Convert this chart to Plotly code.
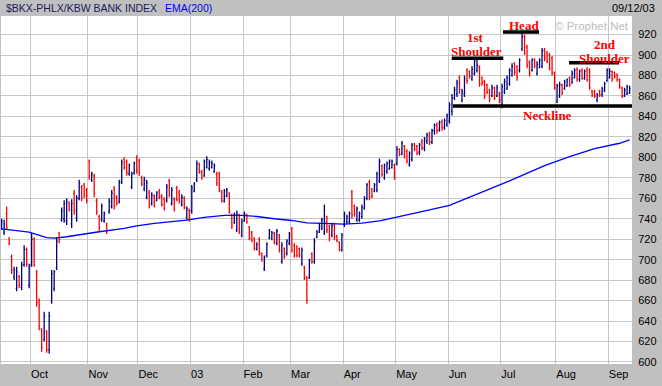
import plotly.graph_objects as go
import pandas as pd

# ---------------- data ----------------
holidays = ["2002-11-28", "2002-12-25", "2003-01-01", "2003-01-20", "2003-02-17",
            "2003-04-18", "2003-05-26", "2003-07-04", "2003-09-01"]
dates = [d for d in pd.bdate_range("2002-09-13", "2003-09-12")
         if d.strftime("%Y-%m-%d") not in holidays]

open_ = [
    731, 727, 745, 721, 703, 683, 672, 684, 673, 695,   # 0
    710, 675, 695, 720, 688, 660, 632, 622, 630, 612,   # 10
    660, 672, 692, 726, 739, 740, 738, 755, 735, 765,   # 20
    741, 760, 771, 773, 768, 796, 778, 782, 758, 742,   # 30
    739, 738, 735, 747, 752, 769, 761, 757, 776, 798,   # 40
    796, 784, 771, 785, 800, 797, 780, 769, 761, 766,   # 50
    755, 762, 758, 767, 762, 759, 758, 777, 755, 759,   # 60
    770, 766, 754, 760, 741, 748, 748, 767, 778, 793,   # 70
    786, 782, 790, 789, 790, 786, 784, 784, 766, 757,   # 80
    762, 765, 744, 736, 729, 744, 724, 738, 744, 732,   # 90
    727, 721, 710, 720, 706, 691, 704, 721, 721, 726,   # 100
    716, 724, 698, 711, 706, 716, 730, 714, 713, 711,   # 110
    696, 693, 682, 682, 706, 698, 722, 727, 731, 727,   # 120
    742, 733, 724, 734, 723, 717, 709, 734, 737, 737,   # 130
    766, 752, 739, 739, 742, 750, 760, 776, 769, 767,   # 140
    768, 777, 792, 780, 786, 789, 790, 793, 794, 808,   # 150
    804, 811, 806, 793, 798, 813, 811, 805, 815, 809,   # 160
    816, 823, 815, 826, 832, 827, 835, 829, 832, 836,   # 170
    845, 858, 862, 878, 856, 862, 885, 884, 877, 882,   # 180
    885, 888, 878, 874, 871, 866, 860, 868, 860, 863,   # 190
    851, 864, 867, 872, 880, 892, 889, 885, 906, 918,   # 200
    908, 893, 885, 896, 882, 888, 889, 905, 902, 900,   # 210
    897, 882, 855, 860, 871, 867, 870, 878, 873, 878,   # 220
    886, 876, 885, 877, 886, 885, 865, 864, 856, 865,   # 230
    861, 865, 875, 878, 884, 883, 881, 876, 868, 860,   # 240
    862, 863,                                           # 250
]
high = [
    740, 739, 752, 722, 705, 693, 693, 685, 698, 714,
    712, 696, 726, 722, 690, 662, 633, 649, 631, 649,
    690, 690, 722, 727, 751, 758, 760, 757, 759, 768,
    763, 778, 773, 775, 770, 798, 786, 784, 760, 744,
    755, 747, 736, 760, 768, 772, 763, 778, 798, 800,
    798, 794, 786, 796, 802, 799, 782, 781, 778, 768,
    766, 764, 767, 769, 764, 761, 774, 779, 771, 761,
    772, 768, 764, 762, 752, 750, 773, 776, 797, 795,
    788, 798, 801, 798, 797, 794, 786, 786, 768, 769,
    770, 766, 745, 746, 748, 745, 740, 747, 745, 733,
    728, 722, 717, 722, 707, 704, 717, 730, 728, 727,
    730, 725, 717, 712, 720, 727, 732, 716, 714, 712,
    712, 694, 684, 701, 707, 721, 729, 736, 741, 754,
    743, 734, 736, 736, 724, 718, 726, 747, 744, 747,
    768, 754, 752, 747, 754, 762, 775, 778, 770, 775,
    786, 799, 793, 794, 796, 798, 798, 794, 811, 809,
    816, 812, 808, 806, 814, 814, 812, 814, 818, 820,
    824, 825, 828, 833, 834, 836, 837, 838, 843, 854,
    862, 869, 876, 880, 867, 880, 887, 885, 889, 897,
    898, 890, 879, 876, 872, 867, 871, 869, 871, 864,
    872, 877, 880, 887, 892, 893, 890, 897, 922, 920,
    910, 895, 897, 897, 894, 897, 907, 907, 904, 902,
    899, 884, 872, 874, 872, 876, 877, 879, 885, 887,
    888, 886, 887, 886, 888, 887, 866, 866, 863, 866,
    869, 874, 887, 887, 885, 884, 882, 877, 869, 868,
    871, 870,
]
low = [
    729, 724, 729, 714, 686, 680, 669, 672, 670, 693,
    693, 672, 693, 693, 654, 631, 610, 620, 609, 608,
    657, 669, 690, 716, 737, 736, 734, 747, 731, 744,
    737, 758, 757, 760, 755, 778, 776, 761, 744, 727,
    737, 736, 725, 745, 750, 749, 753, 755, 774, 788,
    782, 782, 769, 783, 784, 782, 772, 767, 759, 750,
    753, 751, 757, 759, 752, 748, 756, 761, 753, 747,
    757, 755, 752, 749, 739, 737, 745, 766, 776, 784,
    778, 781, 789, 787, 789, 785, 772, 766, 756, 756,
    761, 745, 730, 735, 727, 725, 722, 737, 735, 719,
    717, 709, 709, 704, 698, 689, 702, 720, 719, 715,
    714, 707, 696, 701, 704, 714, 707, 702, 702, 702,
    694, 680, 657, 681, 696, 696, 721, 726, 729, 724,
    726, 718, 722, 719, 717, 708, 708, 732, 735, 735,
    740, 742, 737, 737, 740, 749, 758, 758, 760, 766,
    766, 775, 781, 778, 784, 788, 789, 778, 792, 801,
    802, 799, 794, 791, 796, 806, 802, 802, 807, 806,
    813, 812, 813, 822, 823, 825, 826, 827, 830, 833,
    841, 856, 859, 862, 854, 859, 872, 877, 875, 880,
    883, 869, 870, 857, 862, 854, 859, 856, 859, 853,
    848, 862, 866, 870, 879, 880, 875, 883, 904, 900,
    887, 879, 884, 887, 880, 887, 887, 894, 892, 885,
    880, 866, 853, 858, 861, 866, 869, 869, 872, 877,
    874, 874, 876, 876, 874, 866, 859, 858, 854, 859,
    859, 864, 874, 877, 874, 877, 874, 867, 858, 859,
    861, 862,
]
close = [
    737, 735, 731, 716, 690, 690, 688, 675, 695, 710,
    696, 693, 720, 695, 658, 635, 614, 645, 612, 645,
    686, 688, 718, 720, 748, 755, 757, 749, 755, 748,
    760, 775, 760, 763, 758, 782, 784, 765, 747, 731,
    752, 745, 728, 757, 765, 752, 755, 775, 795, 790,
    785, 792, 784, 794, 787, 785, 774, 778, 775, 752,
    763, 753, 765, 761, 754, 750, 771, 764, 768, 749,
    759, 757, 761, 751, 750, 740, 770, 774, 794, 786,
    780, 796, 798, 795, 794, 792, 775, 768, 758, 767,
    768, 747, 733, 744, 745, 727, 737, 745, 737, 721,
    719, 711, 715, 706, 700, 702, 715, 728, 726, 717,
    728, 709, 714, 703, 718, 725, 709, 704, 704, 705,
    709, 683, 660, 699, 698, 718, 727, 733, 739, 737,
    729, 721, 733, 722, 719, 710, 724, 745, 742, 745,
    744, 745, 750, 745, 751, 760, 773, 761, 762, 773,
    784, 796, 783, 792, 794, 796, 796, 780, 808, 803,
    814, 801, 796, 804, 812, 808, 804, 812, 809, 818,
    822, 815, 826, 831, 826, 834, 829, 836, 841, 851,
    858, 866, 873, 866, 864, 877, 875, 879, 886, 894,
    890, 872, 873, 860, 864, 857, 868, 858, 868, 856,
    869, 874, 878, 885, 889, 883, 878, 895, 918, 902,
    890, 882, 895, 889, 891, 895, 904, 897, 894, 887,
    883, 868, 870, 871, 863, 874, 876, 871, 882, 885,
    877, 884, 878, 884, 876, 868, 861, 860, 861, 861,
    867, 872, 885, 884, 877, 879, 876, 869, 860, 866,
    869, 867,
]

ema_bar = [0, 11, 18, 21, 26, 32, 39, 49, 54, 61, 68, 74, 81, 89, 96, 102, 109,
           116, 122, 131, 137, 144, 151, 157, 164, 167, 179, 191, 203, 217, 227,
           237, 247, 251]
ema_val = [730, 727, 721.5, 721, 722.4, 725, 727.3, 730.6, 733, 735.5, 737, 738.7,
           741.3, 743.2, 743.2, 742.2, 740, 738.3, 736, 735, 734.7, 735.7, 738,
           741.2, 744.5, 746.5, 753, 765, 777, 792, 800.7, 808.5, 813.8, 817]

month_labels = ["Oct", "Nov", "Dec", "03", "Feb", "Mar", "Apr", "May",
                "Jun", "Jul", "Aug", "Sep"]
y_ticks = list(range(600, 921, 20))

# head-and-shoulders annotation lines: (start bar, end bar, level)
pattern_lines = [(179.9, 200.5, 896.9), (200.4, 214.8, 922.6),
                 (226.8, 246.8, 892.6), (180.4, 253.0, 850.3)]
pattern_text = [("1st", 189.2, 916.7), ("Shoulder", 189.6, 903.2),
                ("Head", 208.8, 929.2), ("2nd", 241.2, 910.0),
                ("Shoulder", 240.8, 897.0), ("Neckline", 218.0, 840.5)]

# ---------------- figure ----------------
n = min(len(dates), len(close))
bars = list(range(n))
month_start = [i for i in range(1, len(dates)) if dates[i].month != dates[i - 1].month]
grid_pos = [i - 0.5 for i in month_start]

fig = go.Figure()
fig.add_trace(go.Ohlc(
    x=bars, open=open_[:n], high=high[:n], low=low[:n], close=close[:n],
    increasing=dict(line=dict(color="#000080", width=1.3)),
    decreasing=dict(line=dict(color="#FF0000", width=1.3)),
    tickwidth=0.4, hoverinfo="skip", showlegend=False))
fig.add_trace(go.Scatter(
    x=ema_bar, y=ema_val, mode="lines",
    line=dict(color="#0000FF", width=1.3), hoverinfo="skip", showlegend=False))

for x0, x1, lvl in pattern_lines:
    fig.add_shape(type="line", xref="x", yref="y", x0=x0, x1=x1, y0=lvl, y1=lvl,
                  line=dict(color="black", width=3.5), layer="above")

red_font = dict(family="Liberation Serif", size=13, color="#FF0000", weight="bold")
for txt, xv, yv in pattern_text:
    fig.add_annotation(x=xv, y=yv, xref="x", yref="y", text=txt, showarrow=False,
                       font=red_font, xanchor="center", yanchor="middle")

sans = "Liberation Sans"
# title band texts (paper coords relative to plot area 631x348 px)
fig.add_annotation(xref="paper", yref="paper", x=3 / 631, y=(364 - 8) / 348,
                   text="$BKX-PHLX/KBW BANK INDEX", showarrow=False,
                   xanchor="left", yanchor="middle",
                   font=dict(family=sans, size=10.5, color="#1A1A5E"))
fig.add_annotation(xref="paper", yref="paper", x=162 / 631, y=(364 - 8) / 348,
                   text="EMA(200)", showarrow=False, xanchor="left", yanchor="middle",
                   font=dict(family=sans, size=10.5, color="#0000FF"))
fig.add_annotation(xref="paper", yref="paper", x=656 / 631, y=(364 - 8) / 348,
                   text="09/12/03", showarrow=False, xanchor="right", yanchor="middle",
                   font=dict(family=sans, size=11, color="black"))
fig.add_annotation(xref="paper", yref="paper", x=630 / 631, y=(364 - 26) / 348,
                   text="© Prophet.Net", showarrow=False, xanchor="right",
                   yanchor="middle", font=dict(family=sans, size=11.5, color="#BDBDBD"))

fig.update_layout(
    width=662, height=386,
    margin=dict(l=1, r=30, t=16, b=22, pad=0),
    paper_bgcolor="#C0C0C0", plot_bgcolor="white",
    showlegend=False,
    xaxis=dict(range=[-0.25, 251.95], tickmode="array", tickvals=grid_pos,
               ticktext=month_labels, showgrid=True, gridcolor="#C8C8C8", gridwidth=1,
               zeroline=False, ticklabelposition="outside right",
               ticks="outside", ticklen=4, tickcolor="rgba(0,0,0,0)",
               tickfont=dict(family=sans, size=11, color="black"),
               rangeslider=dict(visible=False), fixedrange=True),
    yaxis=dict(range=[598, 938.2], side="right", tickmode="array", tickvals=y_ticks,
               showgrid=True, gridcolor="#C8C8C8", gridwidth=1, zeroline=False,
               ticks="outside", ticklen=3, tickcolor="rgba(0,0,0,0)",
               tickfont=dict(family=sans, size=11, color="black"), fixedrange=True),
)

fig.write_html("out.html", config={"displayModeBar": False},
               post_script="document.body.style.margin='0';document.body.style.overflow='hidden';")
